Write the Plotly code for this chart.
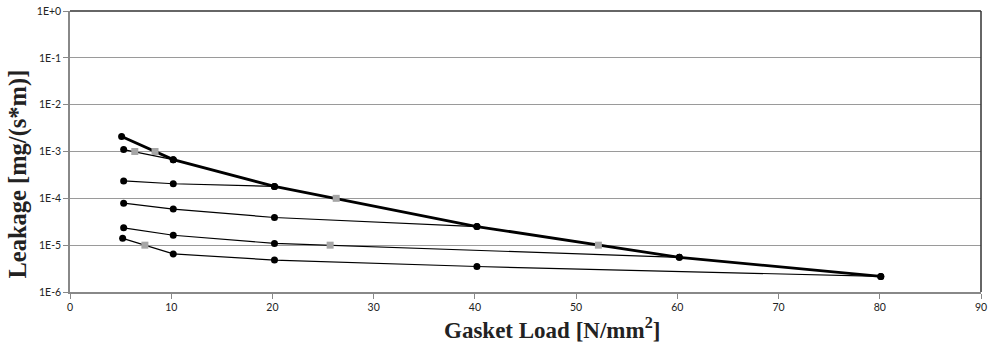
"""
Leakage vs gasket load, log-scale line chart
"""

import plotly.graph_objs as go

# Leakage curves, one list per series (gasket load in N/mm2, leakage in mg/(s*m))
main_load = [5.1, 10.2, 20.2, 40.2, 60.2, 80.1]
main_leak = [2.1e-3, 6.7e-4, 1.8e-4, 2.5e-5, 5.5e-6, 2.15e-6]

series_load = [
    [5.3, 10.2],
    [5.3, 10.2, 20.2],
    [5.3, 10.2, 20.2, 40.2],
    [5.3, 10.2, 20.2, 60.2],
    [5.2, 10.2, 20.2, 40.2, 80.1],
]
series_leak = [
    [1.1e-3, 6.7e-4],
    [2.35e-4, 2.05e-4, 1.8e-4],
    [7.9e-5, 5.9e-5, 3.9e-5, 2.5e-5],
    [2.35e-5, 1.63e-5, 1.09e-5, 5.5e-6],
    [1.4e-5, 6.5e-6, 4.8e-6, 3.5e-6, 2.15e-6],
]

# Crossing points at leakage decades (gray squares)
cross_load = [6.4, 8.4, 26.3, 7.4, 25.7, 52.2]
cross_leak = [1e-3, 1e-3, 1e-4, 1e-5, 1e-5, 1e-5]

y_tickvals = [1e-6, 1e-5, 1e-4, 1e-3, 1e-2, 1e-1, 1]
y_ticktext = ["1E-6", "1E-5", "1E-4", "1E-3", "1E-2", "1E-1", "1E+0"]
x_tickvals = [0, 10, 20, 30, 40, 50, 60, 70, 80, 90]

x_title = "<b>Gasket Load [N/mm<sup>2</sup>]</b>"
y_title = "<b>Leakage [mg/(s*m)]</b>"

data = []

# Thin series
for xs, ys in zip(series_load, series_leak):
    data.append(
        go.Scatter(
            x=xs, y=ys,
            mode="lines+markers",
            line=dict(color="black", width=1.2),
            marker=dict(color="black", size=7, symbol="circle"),
            showlegend=False
        )
    )

# Thick main curve
data.append(
    go.Scatter(
        x=main_load, y=main_leak,
        mode="lines+markers",
        line=dict(color="black", width=2.8),
        marker=dict(color="black", size=7, symbol="circle"),
        showlegend=False
    )
)

# Gray squares
data.append(
    go.Scatter(
        x=cross_load, y=cross_leak,
        mode="markers",
        marker=dict(color="#a6a6a6", size=7, symbol="square"),
        showlegend=False
    )
)

tick_font = dict(family="Lato, Noto Sans, sans-serif", size=10.5, color="#222")
serif = "Liberation Serif, Times New Roman, serif"

layout = go.Layout(
    width=990,
    height=346,
    margin=dict(l=70, r=9, t=11, b=54),
    paper_bgcolor="white",
    plot_bgcolor="white",
    xaxis=dict(
        range=[0, 90],
        tickvals=x_tickvals,
        showgrid=False,
        zeroline=False,
        showline=True,
        linecolor="#888",
        linewidth=1.5,
        ticks="outside",
        ticklen=5,
        tickcolor="#888",
        tickfont=tick_font,
        ticklabeloverflow="allow",
        automargin=False,
    ),
    yaxis=dict(
        type="log",
        range=[-6, 0],
        tickvals=y_tickvals,
        ticktext=y_ticktext,
        showgrid=True,
        gridcolor="#9a9a9a",
        gridwidth=1,
        zeroline=False,
        showline=True,
        linecolor="#888",
        linewidth=1.5,
        ticks="outside",
        ticklen=5,
        tickcolor="#888",
        tickfont=tick_font,
        ticklabeloverflow="allow",
        automargin=False,
    ),
    # axis titles sit a little off-centre in the original, so place them by hand
    annotations=[
        dict(text=x_title, xref="paper", yref="paper", x=0.529, y=0,
             xanchor="center", yanchor="middle", yshift=-36, showarrow=False,
             font=dict(family=serif, size=23, color="#222")),
        dict(text=y_title, xref="paper", yref="paper", x=0, y=0.418,
             xanchor="center", yanchor="middle", xshift=-52, textangle=-90,
             showarrow=False, font=dict(family=serif, size=24.5, color="#222")),
    ],
    # dark frame on top and right of the plot area
    shapes=[
        dict(type="line", xref="paper", yref="paper", x0=0, x1=1, y0=1, y1=1,
             line=dict(color="#333", width=1.5)),
        dict(type="line", xref="paper", yref="paper", x0=1, x1=1, y0=0, y1=1,
             line=dict(color="#333", width=1.5)),
    ],
)

fig = go.Figure(data=data, layout=layout)
# drop the browser's default body margin so the figure sits at the window corner
fig.write_html(
    "out.html",
    config={"displayModeBar": False},
    post_script="document.body.style.margin='0';",
)
